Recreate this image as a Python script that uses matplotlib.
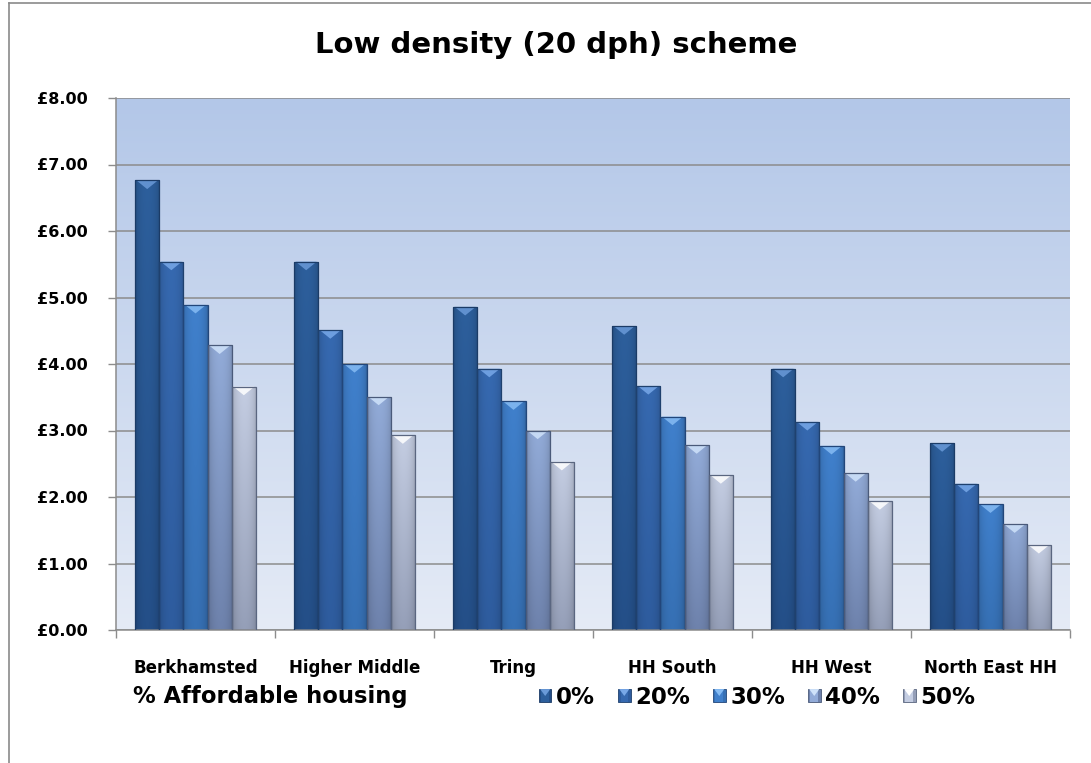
import numpy as np
import matplotlib
matplotlib.use("Agg")
import matplotlib.pyplot as plt
from matplotlib.patches import Rectangle, Polygon
from matplotlib.lines import Line2D
from matplotlib.legend_handler import HandlerBase
from matplotlib.colors import to_rgb

# ---------------- data ----------------
categories = ["Berkhamsted", "Higher Middle", "Tring", "HH South", "HH West", "North East HH"]
series_labels = ["0%", "20%", "30%", "40%", "50%"]
values_0 = [6.76, 5.54, 4.86, 4.57, 3.93, 2.81]
values_20 = [5.54, 4.51, 3.93, 3.67, 3.13, 2.20]
values_30 = [4.89, 4.00, 3.44, 3.21, 2.77, 1.89]
values_40 = [4.28, 3.51, 3.00, 2.78, 2.36, 1.59]
values_50 = [3.66, 2.93, 2.53, 2.33, 1.94, 1.28]
series_values = [values_0, values_20, values_30, values_40, values_50]
y_ticks = [0, 1, 2, 3, 4, 5, 6, 7, 8]
y_tick_labels = ["£0.00", "£1.00", "£2.00", "£3.00", "£4.00", "£5.00", "£6.00", "£7.00", "£8.00"]
title = "Low density (20 dph) scheme"
legend_title = "% Affordable housing"

# styles: (top colour, bottom colour, bevel colour, edge colour)
styles = [
    ("#2d5f9c", "#244f88", "#6a9ad8", "#1b3b66"),
    ("#3669b0", "#2e5c9e", "#78a8e8", "#1f416e"),
    ("#4080cc", "#3670b4", "#86bcf4", "#22467a"),
    ("#92abd8", "#6e82ac", "#cfe2fa", "#4a5a7a"),
    ("#c4cde2", "#959fb8", "#ffffff", "#5a6680"),
]

W, H = 1091, 763
fig = plt.figure(figsize=(W / 100, H / 100), dpi=100)
fig.patch.set_facecolor("white")
ax = fig.add_axes([116 / W, 1 - 630 / H, (1070 - 116) / W, (630 - 98) / H])
ax.set_facecolor("none")

# background gradient
bg_top = np.array(to_rgb("#b3c7e8"))
bg_bot = np.array(to_rgb("#e5ebf6"))
t = np.linspace(0, 1, 256)[:, None]
bg = (bg_top[None, :] * (1 - t) + bg_bot[None, :] * t)[:, None, :]
ax.imshow(bg, extent=[0, 1, 0, 1], transform=ax.transAxes, aspect="auto", zorder=0)

n_cat = len(categories)
n_ser = len(series_values)
bar_w = 0.152
x = np.arange(n_cat)

def grad_img(top, bot, nx=64, ny=128):
    top = np.array(to_rgb(top)); bot = np.array(to_rgb(bot))
    v = np.linspace(0, 1, ny)[:, None, None]
    base = top[None, None, :] * (1 - v) + bot[None, None, :] * v
    u = np.linspace(0, 1, nx)
    shade = 0.72 + 0.28 * np.clip(np.sin(np.pi * u), 0, 1) ** 0.35
    img = base * shade[None, :, None]
    return np.clip(img, 0, 1)

bevel_depth = 0.13
for s, vals in enumerate(series_values):
    top, bot, bev, edge = styles[s]
    offs = (s - (n_ser - 1) / 2) * bar_w
    bars = ax.bar(x + offs, vals, width=bar_w, facecolor="none", edgecolor=edge,
                  linewidth=0.9, zorder=3, label=series_labels[s])
    img = grad_img(top, bot)
    for b in bars:
        bx, bw, bh = b.get_x(), b.get_width(), b.get_height()
        im = ax.imshow(img, extent=[bx, bx + bw, 0, bh], aspect="auto", zorder=2,
                       interpolation="bilinear")
        im.set_clip_path(b)
        tri = Polygon([[bx + bw * 0.06, bh], [bx + bw * 0.94, bh], [bx + bw / 2, bh - bevel_depth]],
                      closed=True, facecolor=bev, edgecolor="none", alpha=0.85, zorder=2.5)
        ax.add_patch(tri)

ax.set_xlim(-0.5, n_cat - 0.5)
ax.set_ylim(0, 8)

# grid and axes
ax.set_yticks(y_ticks)
ax.set_yticklabels(y_tick_labels, fontsize=11.5, fontweight="bold", family="DejaVu Sans")
ax.yaxis.grid(True, color="#8c8c8c", linewidth=1.1, zorder=1)
ax.set_axisbelow(True)
ax.set_xticks(x)
ax.set_xticklabels(categories, fontsize=12, fontweight="bold", family="DejaVu Sans")
ax.set_xticks(np.arange(n_cat + 1) - 0.5, minor=True)
ax.tick_params(axis="x", which="major", length=0, pad=21)
ax.tick_params(axis="x", which="minor", length=6, color="#8c8c8c", width=1)
ax.tick_params(axis="y", length=6, color="#8c8c8c", width=1, pad=14)
for sp in ["top", "right"]:
    ax.spines[sp].set_visible(False)
for sp in ["left", "bottom"]:
    ax.spines[sp].set_color("#8c8c8c")
    ax.spines[sp].set_linewidth(1.1)

# title
fig.text(556 / W, 1 - 45 / H, title, ha="center", va="center", fontsize=21,
         fontweight="bold", family="DejaVu Sans")

# legend title text
fig.text(133 / W, 1 - 697 / H, legend_title, ha="left", va="center", fontsize=16.3,
         fontweight="bold", family="DejaVu Sans")

# legend with gradient squares
class BevelHandler(HandlerBase):
    def __init__(self, style):
        super().__init__()
        self.style = style
    def create_artists(self, legend, orig_handle, xdescent, ydescent, width, height, fontsize, trans):
        top, bot, bev, edge = self.style
        side = min(width, height)
        x0 = -xdescent + (width - side) / 2
        y0 = -ydescent + (height - side) / 2
        rect = Rectangle((x0, y0), side, side, facecolor=bot, edgecolor=edge, linewidth=0.6, transform=trans)
        inner = Rectangle((x0 + side * 0.2, y0), side * 0.6, side, facecolor=top, edgecolor="none", transform=trans)
        tri = Polygon([[x0 + side * 0.1, y0 + side], [x0 + side * 0.9, y0 + side], [x0 + side / 2, y0 + side * 0.45]],
                      closed=True, facecolor=bev, edgecolor="none", transform=trans)
        return [rect, inner, tri]

handles = [Rectangle((0, 0), 1, 1) for _ in series_labels]
hmap = {h: BevelHandler(styles[i]) for i, h in enumerate(handles)}
leg = fig.legend(handles, series_labels, handler_map=hmap, loc="center",
                 bbox_to_anchor=(757 / W, 1 - 697 / H), ncol=5, frameon=False,
                 prop={"size": 16.5, "weight": "bold", "family": "DejaVu Sans"},
                 handlelength=0.55, handleheight=0.55, handletextpad=0.2, columnspacing=1.0,
                 borderaxespad=0, borderpad=0)

# figure border lines
fig.add_artist(Line2D([8.5 / W, 8.5 / W], [0, 1 - 2.5 / H], transform=fig.transFigure,
                      color="#8a8a8a", linewidth=1.2))
fig.add_artist(Line2D([8.5 / W, 1], [1 - 2.5 / H, 1 - 2.5 / H], transform=fig.transFigure,
                      color="#8a8a8a", linewidth=1.2))

fig.savefig("out.png", dpi=100, facecolor="white")
